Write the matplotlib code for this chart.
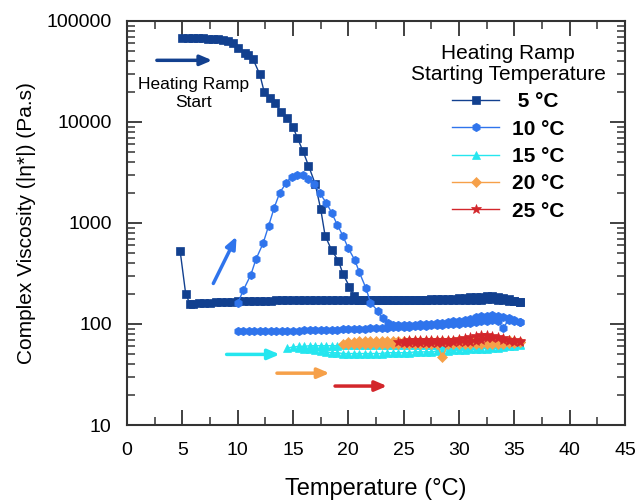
import matplotlib
matplotlib.use('Agg')
import matplotlib.pyplot as plt
import matplotlib.ticker as ticker
import numpy as np

plt.rcParams['font.family'] = ['Liberation Sans', 'DejaVu Sans']

# ---- 5 degC start ----
t5_start = [4.8, 5.3, 5.7]
eta5_start = [530, 200, 156]
eta5_heat = [158, 160, 162, 163, 164, 165, 166, 167, 168, 168,
             169, 169, 170, 170, 170, 171, 171, 171, 171, 171,
             171, 171, 171, 171, 171, 171, 171, 171, 171, 171,
             171, 171, 171, 171, 171, 171, 171, 171, 171, 171,
             171, 171, 171, 171, 171, 171, 171, 171, 171, 172,
             172, 173, 174, 175, 175, 174, 172, 170, 168, 166]
eta5_cool = [165, 168, 175, 182, 186, 188, 188, 187, 185, 183,
             181, 179, 178, 177, 176, 175, 175, 174, 174, 174,
             174, 174, 174, 174, 174, 174, 174, 174, 174, 174]
t5_gel = [20.5, 20.1, 19.5, 19.1, 18.5, 17.9, 17.5, 17.0, 16.4, 15.9, 15.4,
          15.0, 14.5, 13.9, 13.4, 12.9, 12.4, 12.0, 11.4, 10.9, 10.7, 10.0,
          9.6, 9.1, 8.7, 8.2, 7.8, 7.3, 6.9, 6.4, 6.0, 5.5, 5.0]
eta5_gel = [190, 234, 316, 425, 535, 750, 1380, 2450, 3700, 5150, 6950,
            8900, 11000, 12600, 15400, 17300, 19800, 29600, 41700, 45700, 48000, 53800,
            60400, 63000, 64500, 66000, 66500, 67000, 67200, 67400, 67500, 67600, 67600]

# ---- 10 degC start ----
t10_peak = [10.0, 10.5, 11.2, 11.65, 12.3, 12.8, 13.3, 13.8, 14.4, 14.9, 15.4, 15.9, 16.4, 16.9,
            17.4, 18.0, 18.5, 19.0, 19.5, 20.0, 20.6, 21.0, 21.6, 22.0, 22.7, 23.1, 23.6]
eta10_peak = [160, 215, 309, 437, 630, 940, 1415, 1990, 2510, 2880, 3020, 2960, 2750, 2450,
              1990, 1590, 1260, 960, 750, 560, 426, 324, 225, 163, 133, 114, 102]
eta10_heat = [98, 97, 97, 98, 98, 99, 100, 101, 102, 103, 104, 106,
              108, 110, 113, 116, 119, 121, 122, 121, 118, 114, 109, 105]
eta10_cool = [104, 107, 110, 92, 106, 109, 108, 106, 104, 103,
              102, 101, 100, 99, 98, 98, 97, 96, 96, 95,
              94, 94, 93, 93, 92, 92, 91, 91, 90, 90,
              89, 89, 89, 88, 88, 88, 87, 87, 87, 87,
              86, 86, 86, 86, 86, 85, 85, 85, 85, 85,
              85, 85]

# ---- 15 degC start ----
eta15_heat = [58, 59, 60, 60, 61, 61, 61, 61, 61, 61,
              62, 62, 62, 62, 62, 62, 62, 62, 62, 62,
              62, 62, 62, 62, 62, 62, 62, 62, 62, 62,
              62, 62, 62, 63, 63, 63, 63, 63, 63, 63,
              63, 63, 63]
eta15_cool = [62, 61, 60, 59, 58, 58, 57, 57, 56, 56,
              55, 55, 55, 54, 54, 54, 53, 53, 53, 53,
              52, 52, 52, 52, 52, 51, 51, 51, 51, 51,
              51, 51, 51, 52, 52, 53, 54, 55, 56, 57,
              58]

# ---- 20 degC start ----
eta20_heat = [63, 66, 67, 68, 68, 68, 68, 68, 68, 68,
              68, 68, 68, 68, 68, 68, 68, 68, 68, 68,
              68, 69, 69, 70, 71, 72, 73, 72, 71, 70,
              69, 68, 67]
eta20_cool = [66, 65, 65, 64, 64, 64, 64, 64, 63, 63,
              63, 63, 63, 63, 47, 63, 63, 63, 63, 63,
              63, 63, 63, 63, 63, 63, 63, 63, 63, 63,
              63, 63]

# ---- 25 degC start ----
eta25_heat = [66, 68, 69, 69, 69, 69, 69, 69, 70, 70,
              70, 71, 72, 74, 76, 77, 77, 76, 74, 72,
              70, 69, 68]
eta25_cool = [67, 67, 68, 70, 72, 73, 72, 70, 68, 67,
              66, 66, 66, 65, 65, 65, 65, 65, 65, 65,
              65, 65]

labels = [' 5 \u00b0C', '10 \u00b0C', '15 \u00b0C', '20 \u00b0C', '25 \u00b0C']
colors = ['#12408f', '#2f74ec', '#25e6ef', '#f6a049', '#d3262b']
markers = ['s', 'h', '^', 'D', '*']
msizes = [5.5, 6.0, 6.0, 5.0, 7.5]


def ramp(t0, t1, n):
    # temperature grid of the rheometer ramp (0.5 degC steps)
    return list(np.linspace(t0, t1, n))


series_t = [
    t5_start + ramp(6.0, 35.5, len(eta5_heat)) + ramp(35.5, 21.0, len(eta5_cool)) + t5_gel,
    t10_peak + ramp(24.0, 35.5, len(eta10_heat)) + ramp(35.5, 10.0, len(eta10_cool)),
    ramp(14.5, 35.5, len(eta15_heat)) + ramp(35.5, 15.5, len(eta15_cool)),
    ramp(19.5, 35.5, len(eta20_heat)) + ramp(35.5, 20.0, len(eta20_cool)),
    ramp(24.5, 35.5, len(eta25_heat)) + ramp(35.5, 25.0, len(eta25_cool)),
]
series_eta = [
    eta5_start + eta5_heat + eta5_cool + eta5_gel,
    eta10_peak + eta10_heat + eta10_cool,
    eta15_heat + eta15_cool,
    eta20_heat + eta20_cool,
    eta25_heat + eta25_cool,
]

# arrows: (x0, y0, x1, y1, colour index)
arrows = [(2.7, 40800, 7.7, 40800, 0),
          (7.8, 252, 9.9, 735, 1),
          (9.0, 50, 13.8, 50, 2),
          (13.55, 32.6, 18.3, 32.6, 3),
          (18.8, 24.3, 23.5, 24.3, 4)]

fig = plt.figure(figsize=(6.4, 5.0), dpi=100)
ax = fig.add_axes([127 / 640, 1 - 425 / 500, (625 - 127) / 640, (425 - 21) / 500])

for i in range(len(labels)):
    ax.plot(series_t[i], series_eta[i], color=colors[i], marker=markers[i],
            markersize=msizes[i], markeredgewidth=0.5, linewidth=1.0,
            label=labels[i])

for x0, y0, x1, y1, c in arrows:
    ax.annotate('', xy=(x1, y1), xytext=(x0, y0),
                arrowprops=dict(arrowstyle='-|>,head_length=0.7,head_width=0.3',
                                color=colors[c], lw=2.5, shrinkA=0, shrinkB=0))

ax.text(6.0, 19000, 'Heating Ramp\nStart', ha='center', va='center',
        fontsize=12.5, linespacing=1.25)

ax.set_yscale('log')
ax.set_xlim(0, 45)
ax.set_ylim(10, 100000)
ax.xaxis.set_major_locator(ticker.MultipleLocator(5))
ax.xaxis.set_minor_locator(ticker.MultipleLocator(2.5))
ax.yaxis.set_major_locator(ticker.LogLocator(base=10))
ax.yaxis.set_minor_locator(ticker.LogLocator(base=10, subs=np.arange(2, 10)))
ax.yaxis.set_minor_formatter(ticker.NullFormatter())
ax.yaxis.set_major_formatter(ticker.FuncFormatter(lambda v, p: '%d' % v))

ax.tick_params(which='both', direction='in', top=True, right=True, colors='#333333')
ax.tick_params(which='major', length=10.5, width=1.3, labelsize=14)
ax.tick_params(which='minor', length=5.5, width=1.1)
ax.tick_params(axis='y', which='major', pad=11)
ax.tick_params(axis='x', which='major', pad=12)
for sp in ax.spines.values():
    sp.set_linewidth(1.5)
    sp.set_color('#333333')
ax.tick_params(labelcolor='black')

ax.set_xlabel('Temperature (\u00b0C)', fontsize=17, labelpad=14)
ax.set_ylabel('Complex Viscosity (|\u03b7*|) (Pa.s)', fontsize=15)
ax.yaxis.set_label_coords(-0.183, 0.5)

leg = ax.legend(title='Heating Ramp\nStarting Temperature', loc='upper center',
                bbox_to_anchor=(508 / 640, 1 - 34 / 500), bbox_transform=fig.transFigure,
                frameon=False, borderpad=0, handlelength=2.3, handletextpad=0.6,
                labelspacing=0.4, prop={'size': 15, 'weight': 'bold'},
                title_fontsize=15)
leg.get_title().set_multialignment('center')
leg.get_title().set_linespacing(1.1)

plt.savefig('out.png', dpi=100)
